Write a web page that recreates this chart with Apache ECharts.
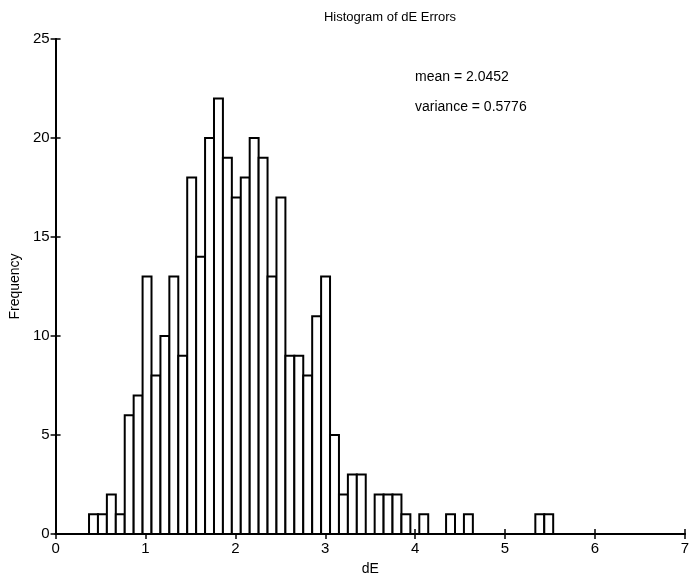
<!DOCTYPE html>
<html>
<head>
<meta charset="utf-8">
<title>Histogram of dE Errors</title>
<script src="https://cdn.jsdelivr.net/npm/echarts@6/dist/echarts.min.js"></script>
<style>
  html, body { margin: 0; padding: 0; background: #fff; }
  #chart { width: 692px; height: 581px; }
</style>
</head>
<body>
<div id="chart"></div>
<script>
// Histogram bins: lower edge of the first bin and the common bin width
const binStart = 0.372;
const binWidth = 0.0993;

// Frequency of dE values in each bin, left to right
const counts = [
  1, 1, 2, 1, 6, 7, 13, 8, 10, 13,
  9, 18, 14, 20, 22, 19, 17, 18, 20, 19,
  13, 17, 9, 9, 8, 11, 13, 5, 2, 3,
  3, 0, 2, 2, 2, 1, 0, 1, 0, 0,
  1, 0, 1, 0, 0, 0, 0, 0, 0, 0,
  1, 1
];

const xTicks = [0, 1, 2, 3, 4, 5, 6, 7];
const yTicks = [0, 5, 10, 15, 20, 25];

const statsLines = ['mean = 2.0452', 'variance = 0.5776'];

// [lower edge, upper edge, count] for each non-empty bin
const binData = [];
counts.forEach(function (c, i) {
  if (c > 0) {
    const lo = binStart + i * binWidth;
    binData.push([lo, lo + binWidth, c]);
  }
});

const font = '"Liberation Sans", Arial, Helvetica, sans-serif';
const axisLine = { show: true, lineStyle: { color: '#000', width: 2 } };
const tickStyle = { show: true, inside: true, length: 5, lineStyle: { color: '#000', width: 1.5 } };
const labelStyle = { color: '#000', fontSize: 15, fontFamily: font };

const chart = echarts.init(document.getElementById('chart'), null, { renderer: 'canvas' });

chart.setOption({
  backgroundColor: '#fff',
  animation: false,
  title: {
    text: 'Histogram of dE Errors',
    left: 385,
    top: 6,
    textAlign: 'center',
    textStyle: { color: '#000', fontSize: 13, fontWeight: 'normal', fontFamily: font }
  },
  grid: { left: 50, right: 2, top: 39, bottom: 41, containLabel: false },
  xAxis: [
    {
      type: 'value', min: xTicks[0], max: xTicks[xTicks.length - 1], interval: 1,
      position: 'bottom',
      name: 'dE', nameLocation: 'middle', nameGap: 28,
      nameTextStyle: { color: '#000', fontSize: 14, fontFamily: font },
      axisLine: axisLine, axisTick: tickStyle,
      axisLabel: Object.assign({ margin: 7 }, labelStyle),
      splitLine: { show: false }
    },
    {
      type: 'value', min: xTicks[0], max: xTicks[xTicks.length - 1], interval: 1,
      position: 'top',
      axisLine: axisLine, axisTick: tickStyle,
      axisLabel: { show: false }, splitLine: { show: false }
    }
  ],
  yAxis: [
    {
      type: 'value', min: yTicks[0], max: yTicks[yTicks.length - 1], interval: 5,
      position: 'left',
      name: 'Frequency', nameLocation: 'middle', nameGap: 32, nameRotate: 90,
      nameTextStyle: { color: '#000', fontSize: 14, fontFamily: font },
      axisLine: axisLine, axisTick: tickStyle,
      axisLabel: Object.assign({ margin: 6 }, labelStyle),
      splitLine: { show: false }
    },
    {
      type: 'value', min: yTicks[0], max: yTicks[yTicks.length - 1], interval: 5,
      position: 'right',
      axisLine: axisLine, axisTick: tickStyle,
      axisLabel: { show: false }, splitLine: { show: false }
    }
  ],
  graphic: [
    {
      type: 'text', left: 415, top: 70,
      style: { text: statsLines[0], fill: '#000', font: '14px ' + font }
    },
    {
      type: 'text', left: 415, top: 100,
      style: { text: statsLines[1], fill: '#000', font: '14px ' + font }
    }
  ],
  series: [
    {
      type: 'custom',
      xAxisIndex: 0,
      yAxisIndex: 0,
      data: binData,
      encode: { x: [0, 1], y: 2 },
      renderItem: function (params, api) {
        const lo = api.value(0), hi = api.value(1), c = api.value(2);
        const pTop = api.coord([lo, c]);
        const pBase = api.coord([hi, 0]);
        return {
          type: 'rect',
          shape: {
            x: pTop[0], y: pTop[1],
            width: pBase[0] - pTop[0], height: pBase[1] - pTop[1]
          },
          style: { fill: '#fff', stroke: '#000', lineWidth: 2 }
        };
      }
    }
  ]
});
</script>
</body>
</html>
